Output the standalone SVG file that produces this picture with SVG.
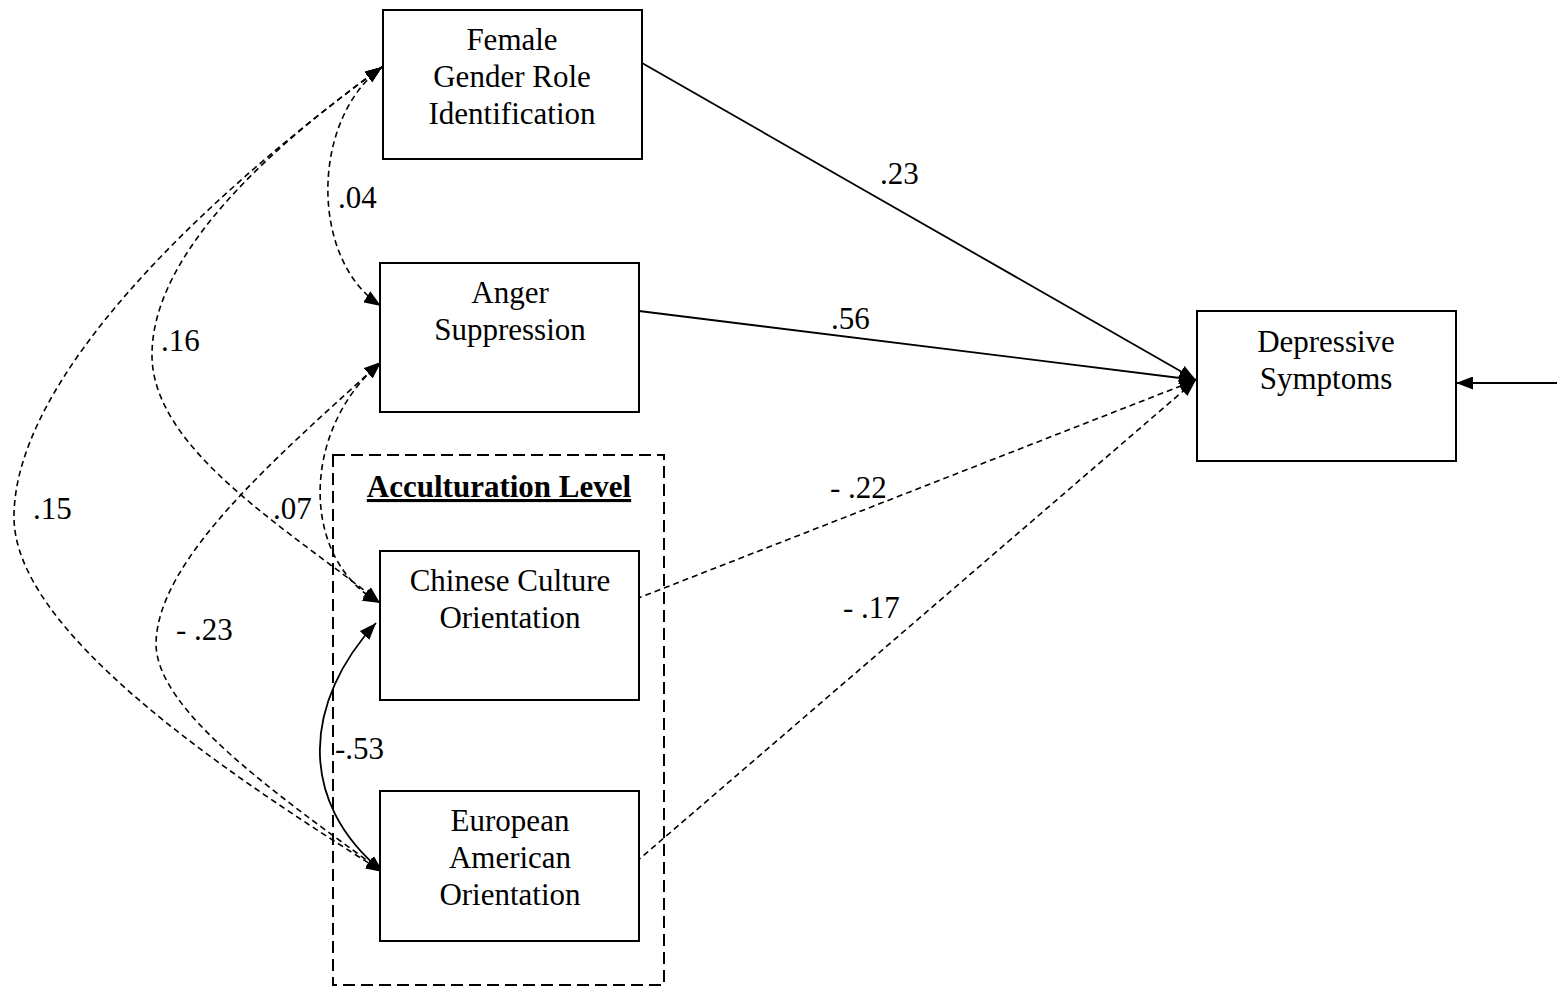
<svg xmlns="http://www.w3.org/2000/svg" width="1557" height="989" viewBox="0 0 1557 989">
<style>
.box{fill:#fff;stroke:#000;stroke-width:2}
.t{font-family:"Liberation Serif","Times New Roman",serif;font-size:31px;fill:#000}
.c{text-anchor:middle}
.solid{fill:none;stroke:#000;stroke-width:1.8}
.dash{fill:none;stroke:#000;stroke-width:1.6;stroke-dasharray:6 4}
</style>
<defs>
<marker id="ah" markerUnits="userSpaceOnUse" markerWidth="17" markerHeight="13" viewBox="0 0 17 13" refX="17" refY="6.5" orient="auto-start-reverse">
<path d="M0,0 L17,6.5 L0,13 z" fill="#000"/>
</marker>
</defs>
<rect x="0" y="0" width="1557" height="989" fill="#fff"/>

<g id="acculturation">
<rect x="333" y="455" width="331" height="530" fill="none" stroke="#000" stroke-width="2" stroke-dasharray="12 6"/>
<text class="t c" x="499" y="497" font-weight="bold" text-decoration="underline">Acculturation Level</text>
</g>

<g id="connectors">
<path class="solid" d="M642,63 L1196,380" marker-end="url(#ah)"/>
<path class="solid" d="M639,311 L1196,380" marker-end="url(#ah)"/>
<path class="dash" d="M636,599 L1196,380" marker-end="url(#ah)"/>
<path class="dash" d="M636,862 L1196,380" marker-end="url(#ah)"/>
<path class="solid" d="M1557,383 L1456,383" marker-end="url(#ah)"/>
<path class="dash" d="M382,67 C310,120 310,260 381,306" marker-start="url(#ah)" marker-end="url(#ah)"/>
<path class="dash" d="M382,67 C280,140 152,250 152,355 C152,450 290,530 380,603" marker-start="url(#ah)" marker-end="url(#ah)"/>
<path class="dash" d="M382,67 C200,200 14,380 14,517 C14,630 220,770 383,872" marker-start="url(#ah)" marker-end="url(#ah)"/>
<path class="dash" d="M381,362 C277,457 156,560 156,645 C158,710 270,790 383,872" marker-start="url(#ah)" marker-end="url(#ah)"/>
<path class="dash" d="M381,362 C300,430 300,560 380,603" marker-start="url(#ah)" marker-end="url(#ah)"/>
<path class="solid" d="M376,623 C305,700 295,800 383,872" marker-start="url(#ah)" marker-end="url(#ah)"/>
</g>

<g id="labels">
<text class="t" x="880" y="184">.23</text>
<text class="t" x="831" y="329">.56</text>
<text class="t" x="830" y="498">- .22</text>
<text class="t" x="843" y="618">- .17</text>
<text class="t" x="338" y="208">.04</text>
<text class="t" x="161" y="351">.16</text>
<text class="t" x="33" y="519">.15</text>
<text class="t" x="273" y="519">.07</text>
<text class="t" x="176" y="640">- .23</text>
<text class="t" x="335" y="759">-.53</text>
</g>

<g id="female">
<rect class="box" x="383" y="10" width="259" height="149"/>
<text class="t c" x="512" y="50">Female</text>
<text class="t c" x="512" y="87">Gender Role</text>
<text class="t c" x="512" y="124">Identification</text>
</g>

<g id="anger">
<rect class="box" x="380" y="263" width="259" height="149"/>
<text class="t c" x="510" y="303">Anger</text>
<text class="t c" x="510" y="340">Suppression</text>
</g>

<g id="chinese">
<rect class="box" x="380" y="551" width="259" height="149"/>
<text class="t c" x="510" y="591">Chinese Culture</text>
<text class="t c" x="510" y="628">Orientation</text>
</g>

<g id="european">
<rect class="box" x="380" y="791" width="259" height="150"/>
<text class="t c" x="510" y="831">European</text>
<text class="t c" x="510" y="868">American</text>
<text class="t c" x="510" y="905">Orientation</text>
</g>

<g id="depressive">
<rect class="box" x="1197" y="311" width="259" height="150"/>
<text class="t c" x="1326" y="352">Depressive</text>
<text class="t c" x="1326" y="389">Symptoms</text>
</g>
</svg>
